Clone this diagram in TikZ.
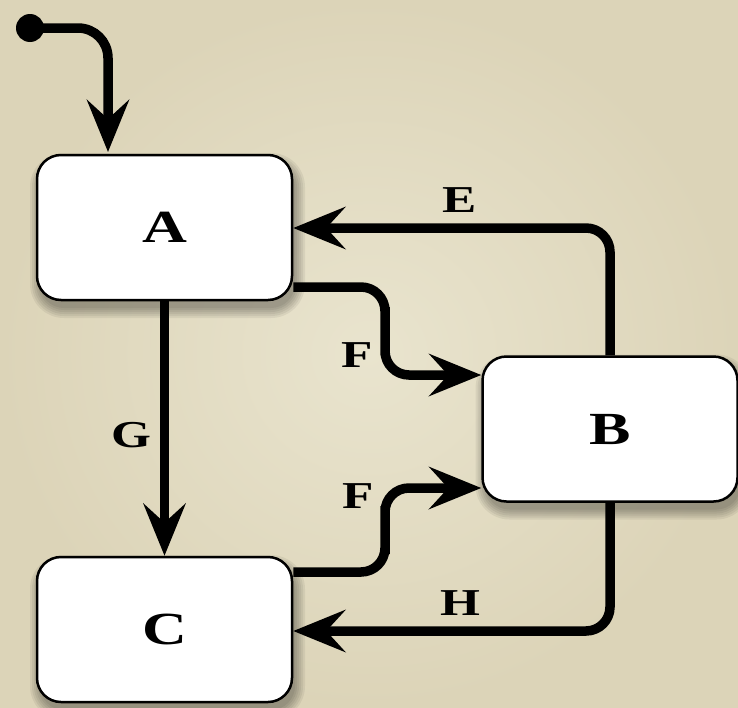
\documentclass[tikz,border=0pt]{standalone}
\usepackage{fontspec}
\newfontfamily\cpfont{Liberation Serif Bold}[FakeStretch=1.35]
\usetikzlibrary{arrows.meta,positioning,calc}
\definecolor{bgin}{RGB}{233,228,206}
\definecolor{bgout}{RGB}{220,212,184}
\tikzset{
  statebox/.style={draw=black, line width=2.5pt, fill=white, rounded corners=24pt,
    minimum width=255pt, minimum height=145pt, inner sep=0pt,
    font=\cpfont\fontsize{46}{46}\selectfont},
  conn/.style={line width=9.5pt, rounded corners=24pt,
    -{Stealth[length=52pt, width=42pt, inset=19pt]}},
  lbl/.style={font=\cpfont\fontsize{38}{38}\selectfont, inner sep=0pt}
}
\begin{document}
\begin{tikzpicture}[x=1pt,y=-1pt]
\shade[inner color=bgin, outer color=bgout] (0,0) rectangle (738,707);
\useasboundingbox (0,0) rectangle (738,707);
\coordinate (pA) at (164.5,227.5);
\coordinate (pB) at (610,429);
\coordinate (pC) at (164.5,629.5);
\foreach \p in {pA,pB,pC}{
  \foreach \k in {0,2,...,10}{
    \fill[black, opacity=0.06, rounded corners=24pt+\k pt]
      ($(\p)+(-127.5-\k+3,-72.5-\k+8)$) rectangle ($(\p)+(127.5+\k+3,72.5+\k+8)$);
  }
}
\node[statebox] (A) at (pA) {A};
\node[statebox] (B) at (pB) {B};
\node[statebox] (C) at (pC) {C};
\fill (30,28) circle (14pt) coordinate (init);
\coordinate (aTop) at (108,152);
\draw[conn, rounded corners=30pt] (init) -| (aTop);
% E
\draw[conn] (B.north) |- (A.east |- 0,228);
% F upper
\draw[conn] (A.east |- 0,287) -| (385,331) |- (B.west |- 0,375);
% G
\draw[conn] (A.south) -- (C.north);
% F lower
\draw[conn] (C.east |- 0,572) -| (385,530) |- (B.west |- 0,488);
% H
\draw[conn] (B.south) |- (C.east |- 0,631);
\node[lbl] (lE) at (460,200) {E};
\node[lbl] (lF1) at (357,355) {F};
\node[lbl] (lG) at (131,435) {G};
\node[lbl] (lF2) at (358,496) {F};
\node[lbl] (lH) at (460,603) {H};
\end{tikzpicture}
\end{document}
